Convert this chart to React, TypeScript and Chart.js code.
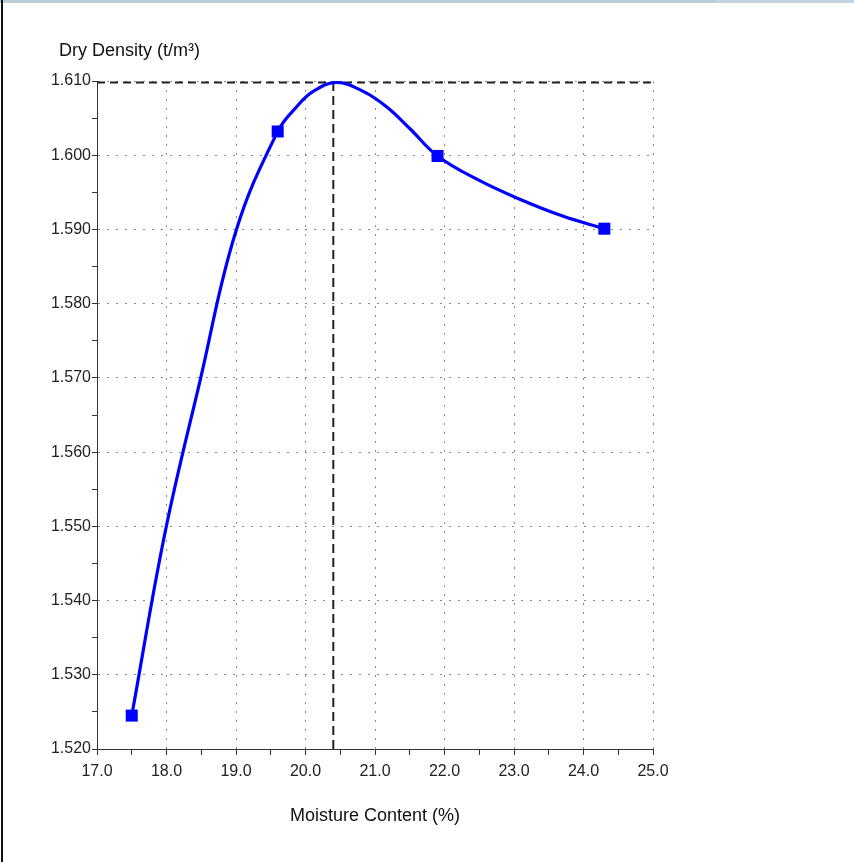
import React, { useEffect, useRef } from "react";
import { Chart, registerables } from "chart.js";

Chart.register(...registerables);

// ---- data ----
const pointX = [17.5, 19.6, 21.9, 24.3];
const pointY = [1.5245, 1.6032, 1.5999, 1.5901];

const curveX = [17.5, 17.98, 18.48, 19.0, 19.6, 19.87, 20.11, 20.45, 20.83, 21.17, 21.5, 21.9, 22.5, 23.1, 23.7, 24.3];
const curveY = [1.5245, 1.5492, 1.5695, 1.5898, 1.6032, 1.6065, 1.6086, 1.6098, 1.6086, 1.6065, 1.6036, 1.5999, 1.5966, 1.5940, 1.5918, 1.5901];

const optimumMoisture = 20.4;
const maxDryDensity = 1.6098;

const xMin = 17;
const xMax = 25;
const xStep = 0.5;
const yMin = 1.52;
const yMax = 1.61;
const yStep = 0.005;

const yAxisTitle = "Dry Density (t/m³)";
const xAxisTitle = "Moisture Content (%)";

const FONT = '"Liberation Sans", Arial, sans-serif';

const isMajorX = (v: number) => Math.abs(v - Math.round(v)) < 1e-6;
const isMajorY = (v: number) => Math.abs(v * 100 - Math.round(v * 100)) < 1e-6;

const titlesPlugin = {
  id: "titles",
  afterDraw(chart: any) {
    const { ctx, chartArea } = chart;
    ctx.save();
    ctx.fillStyle = "#111";
    ctx.font = `18px ${FONT}`;
    ctx.textAlign = "left";
    ctx.textBaseline = "alphabetic";
    ctx.fillText(yAxisTitle, chartArea.left - 38, chartArea.top - 25);
    ctx.font = `18px ${FONT}`;
    ctx.textAlign = "center";
    ctx.textBaseline = "middle";
    ctx.fillText(xAxisTitle, (chartArea.left + chartArea.right) / 2, chartArea.bottom + 67);
    ctx.restore();
  },
};

export default function App() {
  const canvasRef = useRef<HTMLCanvasElement | null>(null);

  useEffect(() => {
    if (!canvasRef.current) return;
    const markers = pointX.map((x, i) => ({ x, y: pointY[i] }));
    const curve = curveX.map((x, i) => ({ x, y: curveY[i] }));
    const chart = new Chart(canvasRef.current, {
      type: "line",
      data: {
        datasets: [
          {
            label: "Test points",
            data: markers,
            showLine: false,
            pointStyle: "rect",
            pointRadius: 8.5,
            pointBackgroundColor: "#0000ff",
            pointBorderColor: "#0000ff",
            pointBorderWidth: 0,
          },
          {
            label: "Curve",
            data: curve,
            borderColor: "#0000ff",
            borderWidth: 3.2,
            pointRadius: 0,
            tension: 0.4,
            fill: false,
          },
          {
            label: "MDD",
            data: [
              { x: xMin, y: maxDryDensity },
              { x: xMax, y: maxDryDensity },
            ],
            borderColor: "#222",
            borderWidth: 2,
            borderDash: [8, 5],
            pointRadius: 0,
            tension: 0,
          },
          {
            label: "OMC",
            data: [
              { x: optimumMoisture, y: yMin },
              { x: optimumMoisture, y: maxDryDensity },
            ],
            borderColor: "#222",
            borderWidth: 2,
            borderDash: [9, 5],
            pointRadius: 0,
            tension: 0,
          },
        ],
      } as any,
      options: {
        animation: false,
        responsive: false,
        devicePixelRatio: 1,
        layout: { padding: { left: 47, right: 201, top: 81, bottom: 83 } },
        plugins: {
          legend: { display: false },
          tooltip: { enabled: false },
          title: { display: false },
        },
        scales: {
          x: {
            type: "linear",
            min: xMin,
            max: xMax,
            afterFit: (s: any) => {
              s.height = 30;
            },
            ticks: {
              stepSize: xStep,
              autoSkip: false,
              maxRotation: 0,
              padding: 7,
              color: "#222",
              font: { family: FONT, size: 16 },
              callback: (v: any) => (isMajorX(Number(v)) ? Number(v).toFixed(1) : ""),
            },
            grid: {
              color: (c: any) => (c.tick && isMajorX(c.tick.value) ? "#8a8a8a" : "rgba(0,0,0,0)"),
              lineWidth: 1,
              tickColor: "#333",
              tickLength: 6,
              tickWidth: 1,
              tickBorderDash: [],
            },
            border: { display: true, color: "#333", width: 1, dash: [2, 7] },
          },
          y: {
            type: "linear",
            min: yMin,
            max: yMax,
            afterFit: (s: any) => {
              s.width = 50;
            },
            ticks: {
              stepSize: yStep,
              autoSkip: false,
              padding: 1,
              color: "#222",
              font: { family: FONT, size: 16 },
              callback: (v: any) => (isMajorY(Number(v)) ? Number(v).toFixed(3) : ""),
            },
            grid: {
              color: (c: any) => (c.tick && isMajorY(c.tick.value) ? "#8a8a8a" : "rgba(0,0,0,0)"),
              lineWidth: 1,
              tickColor: "#333",
              tickLength: 5,
              tickWidth: 1,
              tickBorderDash: [],
            },
            border: { display: true, color: "#333", width: 1, dash: [2, 7] },
          },
        },
      } as any,
      plugins: [titlesPlugin],
    });
    return () => chart.destroy();
  }, []);

  return (
    <div style={{ position: "fixed", left: 0, top: 0, width: 854, height: 862, background: "#fff", overflow: "hidden" }}>
      <canvas ref={canvasRef} width={854} height={862} style={{ position: "absolute", left: 0, top: 0, width: 854, height: 862, display: "block" }} />
      <div style={{ position: "absolute", left: 0, top: 0, width: 716, height: 3, background: "#b9cbd7" }} />
      <div style={{ position: "absolute", left: 716, top: 0, width: 138, height: 3, background: "#c4d3dd" }} />
      <div style={{ position: "absolute", left: 1, top: 0, width: 2, height: 862, background: "#111" }} />
    </div>
  );
}
